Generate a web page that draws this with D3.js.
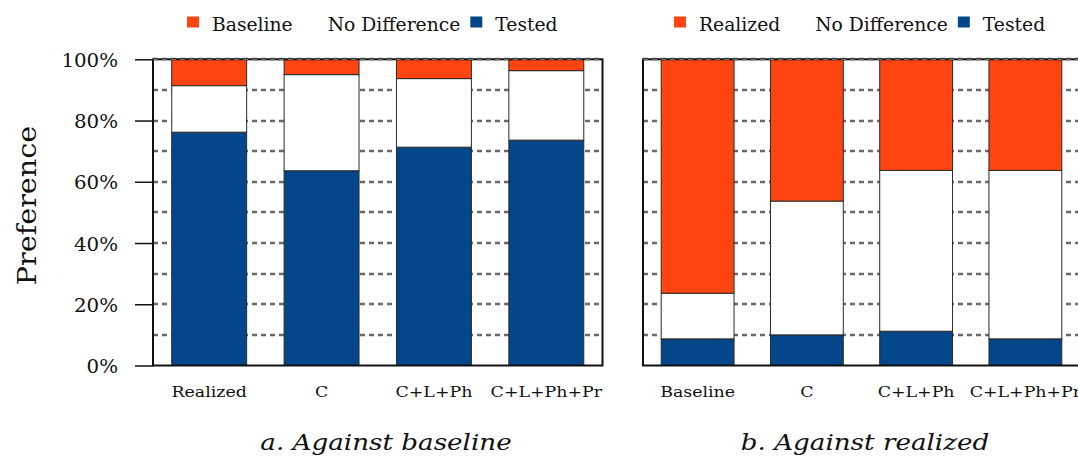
<!DOCTYPE html>
<html>
<head>
<meta charset="utf-8">
<script src="https://cdn.jsdelivr.net/npm/d3@7"></script>
<style>
  html, body { margin: 0; padding: 0; background: #fff; }
  svg { display: block; }
</style>
</head>
<body>
<svg id="chart" width="1078" height="456"></svg>
<script>
// ---------------- data ----------------
const catsA = ["Realized", "C", "C+L+Ph", "C+L+Ph+Pr"];
const testedA = [76.2, 63.6, 71.3, 73.6];
const noDiffA = [15.2, 31.4, 22.4, 22.7];
const baselineA = [8.6, 5.0, 6.3, 3.7];

const catsB = ["Baseline", "C", "C+L+Ph", "C+L+Ph+Pr"];
const testedB = [8.7, 10.0, 11.2, 8.7];
const noDiffB = [14.9, 43.7, 52.5, 55.0];
const realizedB = [76.4, 46.3, 36.3, 36.3];

const legendA = ["Baseline", "No Difference", "Tested"];
const legendB = ["Realized", "No Difference", "Tested"];
const titleA = "a. Against baseline";
const titleB = "b. Against realized";
const yLabel = "Preference";
const yTicks = [0, 20, 40, 60, 80, 100];
const gridTicks = [10, 20, 30, 40, 50, 60, 70, 80, 90, 100];

// ---------------- styling / layout ----------------
const FONT = "DejaVu Serif";
const ORANGE = "#FE4511";
const BLUE = "#03468A";
const WHITE = "#FFFFFF";
const svg = d3.select("#chart");

const y = d3.scaleLinear().domain([0, 100]).range([365.5, 59.3]);

function stretch(sel, x, yy, sx) {
  sel.attr("x", 0).attr("y", 0)
     .attr("font-family", FONT).style("font-family", FONT).attr("fill", "#111")
     .attr("transform", `translate(${x},${yy}) scale(${sx},1)`);
}

function panel(cats, series, colors, xRange, showAxis, title, titleX, legend, legendX) {
  const g = svg.append("g");
  const x = d3.scaleBand().domain(cats).range(xRange)
    .paddingInner(1 / 3).paddingOuter(1 / 6);

  g.append("g").selectAll("line").data(gridTicks).join("line")
    .attr("x1", xRange[0]).attr("x2", xRange[1])
    .attr("y1", d => Math.round(y(d))).attr("y2", d => Math.round(y(d)))
    .attr("stroke", "#6a6a6a").attr("stroke-width", 2.4)
    .attr("stroke-dasharray", "5,4");

  const rows = cats.map((c, i) => ({ cat: c, s0: series[0][i], s1: series[1][i], s2: series[2][i] }));
  const stack = d3.stack().keys(["s0", "s1", "s2"])(rows);
  g.append("g").selectAll("g").data(stack).join("g")
    .attr("fill", (d, i) => colors[i])
    .selectAll("rect").data(d => d).join("rect")
    .attr("x", d => x(d.data.cat))
    .attr("width", x.bandwidth())
    .attr("y", d => y(d[1]))
    .attr("height", d => y(d[0]) - y(d[1]))
    .attr("stroke", "#2a2a2a").attr("stroke-width", 1);

  g.append("rect")
    .attr("x", xRange[0]).attr("y", y(100))
    .attr("width", xRange[1] - xRange[0]).attr("height", y(0) - y(100))
    .attr("fill", "none").attr("stroke", "#111").attr("stroke-width", 2);
  g.append("line")
    .attr("x1", xRange[0]).attr("x2", xRange[1])
    .attr("y1", y(100)).attr("y2", y(100))
    .attr("stroke", "#6f6f6f").attr("stroke-width", 1.2)
    .attr("stroke-dasharray", "5,4");

  if (showAxis) {
    const ax = g.append("g").attr("transform", `translate(${xRange[0]},0)`)
      .call(d3.axisLeft(y).tickValues(yTicks).tickSize(18).tickPadding(17)
        .tickFormat(d => d + "%"));
    ax.attr("font-family", null).attr("font-size", null);
    ax.select(".domain").remove();
    ax.selectAll(".tick line").attr("stroke", "#111").attr("stroke-width", 1.5);
    ax.selectAll(".tick text").each(function () {
      const t = d3.select(this);
      t.attr("dy", null).attr("font-size", 18).attr("text-anchor", "end");
      stretch(t, -35, 7, 1.1);
    });
  }

  g.append("g").selectAll("text").data(cats).join("text")
    .attr("text-anchor", "middle").attr("font-size", 15)
    .each(function (d) { stretch(d3.select(this), x(d) + x.bandwidth() / 2, 397, 1.16); })
    .text(d => d);

  const tt = g.append("text").attr("text-anchor", "middle")
    .attr("font-size", 22).attr("font-style", "italic").text(title);
  stretch(tt, titleX, 450, 1.19);

  let cx = legendX;
  const sx = 1.04;
  legend.forEach((lab, i) => {
    const color = colors[colors.length - 1 - i];
    g.append("rect").attr("x", cx).attr("y", 16.5).attr("width", 12).attr("height", 11)
      .attr("fill", color);
    const t = g.append("text").attr("font-size", 18).text(lab);
    stretch(t, cx + 25, 30.5, sx);
    const w = t.node().getComputedTextLength() * sx;
    cx += 25 + w + 10;
  });
  return x;
}

panel(catsA, [testedA, noDiffA, baselineA], [BLUE, WHITE, ORANGE], [153, 602.5], true,
  titleA, 386, legendA, 187);
panel(catsB, [testedB, noDiffB, realizedB], [BLUE, WHITE, ORANGE], [643, 1080], false,
  titleB, 865, legendB, 674);

const yl = svg.append("text").attr("text-anchor", "middle").attr("font-size", 26)
  .attr("font-family", FONT).style("font-family", FONT).attr("fill", "#111").text(yLabel);
yl.attr("x", 0).attr("y", 0).attr("transform", `translate(36,205.5) rotate(-90) scale(1.1,1)`);
</script>
</body>
</html>
